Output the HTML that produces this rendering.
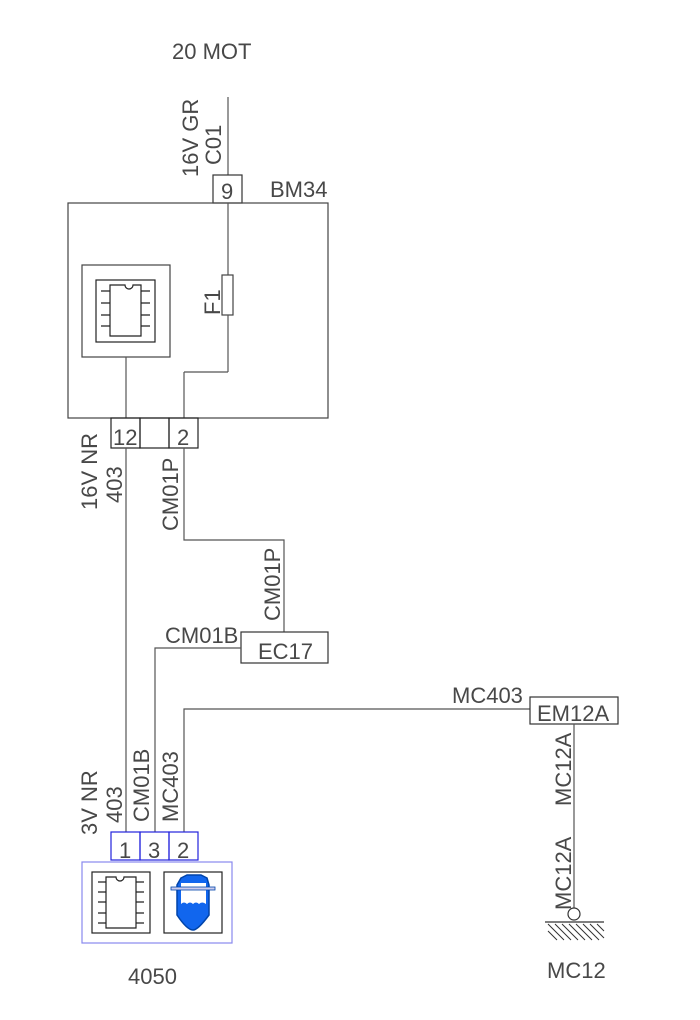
<!DOCTYPE html>
<html><head><style>body{margin:0;background:#fff}svg{display:block}text{font-family:"Liberation Sans",sans-serif;font-size:22px;fill:#484848}</style></head>
<body>
<svg width="700" height="1020" viewBox="0 0 700 1020" xmlns="http://www.w3.org/2000/svg">
<g fill="none" stroke="#555" stroke-width="1.2">
<line x1="228" y1="97" x2="228" y2="175"/>
<rect x="213" y="175" width="29" height="28" stroke="#333"/>
<rect x="68" y="203" width="260" height="215" stroke="#444"/>
<line x1="228" y1="203" x2="228" y2="275"/>
<rect x="222" y="275" width="11" height="40" stroke="#444"/>
<line x1="228" y1="315" x2="228" y2="372"/>
<line x1="228" y1="372" x2="184" y2="372"/>
<line x1="184" y1="372" x2="184" y2="418"/>
<rect x="82" y="265" width="88" height="92" stroke="#444"/>
<rect x="96" y="280" width="59" height="62" stroke="#222"/>
<path d="M110 285 H125 A4 4 0 0 0 133 285 H141 V336 H110 Z" stroke="#222"/>
<path d="M101 291h9M101 303h9M101 315h9M101 326h9M141 291h9M141 303h9M141 315h9M141 326h9" stroke="#222"/>
<line x1="126" y1="357" x2="126" y2="418"/>
<rect x="111" y="418" width="29" height="30" stroke="#222"/>
<rect x="140" y="418" width="29" height="30" stroke="#222"/>
<rect x="169" y="418" width="29" height="30" stroke="#222"/>
<line x1="126" y1="448" x2="126" y2="832"/>
<polyline points="184,448 184,540 284,540 284,632"/>
<rect x="241" y="632" width="87" height="31" stroke="#333"/>
<polyline points="241,648 155,648 155,832"/>
<polyline points="530,709 184,709 184,832"/>
<rect x="530" y="697" width="88" height="27" stroke="#333"/>
<line x1="574" y1="724" x2="574" y2="908"/>
<circle cx="574" cy="914" r="6" stroke="#333"/>
<line x1="545" y1="922" x2="604" y2="922" stroke="#333"/>
<path d="M548 924l16 16M555 924l16 16M562 924l16 16M569 924l16 16M576 924l16 16M583 924l16 16M590 924l14 14M597 924l7 7M548 931l9 9" stroke="#333" stroke-width="1"/>
</g>
<g fill="none" stroke="#2222dd" stroke-width="1.2">
<rect x="111" y="832" width="29" height="28"/>
<rect x="140" y="832" width="29" height="28"/>
<rect x="169" y="832" width="29" height="28"/>
</g>
<rect x="82" y="862" width="150" height="81" fill="none" stroke="#8888ee" stroke-width="1.2"/>
<g fill="none" stroke="#222" stroke-width="1.2">
<rect x="92" y="872" width="58" height="61"/>
<path d="M106 877 H116 A4 4 0 0 0 124 877 H136 V928 H106 Z"/>
<path d="M98 882h8M98 892h8M98 902h8M98 913h8M98 923h8M136 882h8M136 892h8M136 902h8M136 913h8M136 923h8"/>
<rect x="164" y="872" width="58" height="61"/>
</g>
<path d="M181 878 L187 875 L201 875 L207 878 L209 885 L209 915 Q198 930 193 930 Q187 930 177 915 L177 885 Z" fill="#1166ee" stroke="#0044aa" stroke-width="1.5"/>
<path d="M181 883 H206 V904 Q202 901 199 904 Q196 901 193 904 Q190 901 187 904 Q184 901 181 904 Z" fill="#fff"/>
<rect x="171" y="887" width="44" height="3" fill="#cce" stroke="#0044aa" stroke-width="0.8"/>
<text x="172" y="59">20 MOT</text>
<text x="221" y="199">9</text>
<text x="270" y="197">BM34</text>
<text x="113" y="445">12</text>
<text x="177" y="445">2</text>
<text x="119" y="858">1</text>
<text x="148" y="858">3</text>
<text x="177" y="858">2</text>
<text x="258" y="659">EC17</text>
<text x="537" y="721">EM12A</text>
<text x="165" y="643">CM01B</text>
<text x="452" y="703">MC403</text>
<text x="128" y="984">4050</text>
<text x="547" y="978">MC12</text>
<text transform="translate(198,177) rotate(-90)">16V  GR</text>
<text transform="translate(221,165) rotate(-90)">C01</text>
<text transform="translate(220,315) rotate(-90)">F1</text>
<text transform="translate(97,510) rotate(-90)">16V  NR</text>
<text transform="translate(122,503) rotate(-90)">403</text>
<text transform="translate(178,531) rotate(-90)">CM01P</text>
<text transform="translate(280,621) rotate(-90)">CM01P</text>
<text transform="translate(97,835) rotate(-90)">3V  NR</text>
<text transform="translate(122,823) rotate(-90)">403</text>
<text transform="translate(149,822) rotate(-90)">CM01B</text>
<text transform="translate(178,822) rotate(-90)">MC403</text>
<text transform="translate(571,806) rotate(-90)">MC12A</text>
<text transform="translate(571,910) rotate(-90)">MC12A</text>
</svg>
</body></html>
